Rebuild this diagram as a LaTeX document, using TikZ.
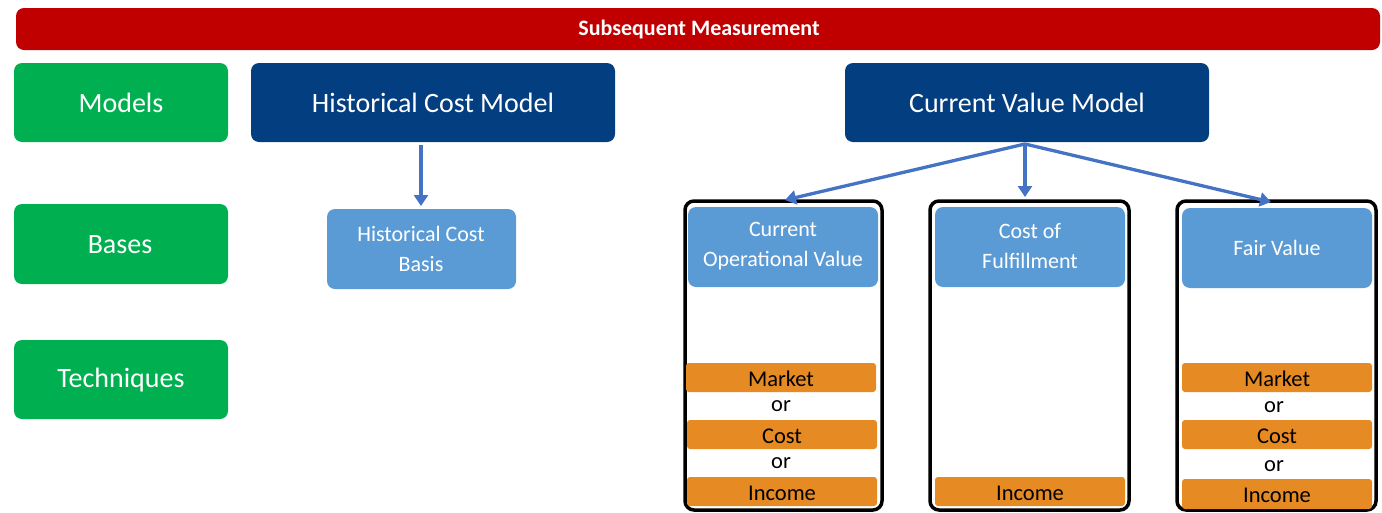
\documentclass[tikz,border=0pt]{standalone}
\usepackage{fontspec}
\setmainfont{Carlito}
\usetikzlibrary{arrows.meta}
\definecolor{redbar}{HTML}{C00000}
\definecolor{greenb}{HTML}{00B050}
\definecolor{navy}{HTML}{023E80}
\definecolor{lblue}{HTML}{5B9BD5}
\definecolor{arrowc}{HTML}{4472C4}
\definecolor{orangeb}{HTML}{E68A23}
\begin{document}
\begin{tikzpicture}[x=1pt,y=-1pt,
  box/.style={rounded corners=8pt,draw=none},
  lab/.style={text=white,font=\fontsize{28}{30}\selectfont},
  blab/.style={text=white,font=\fontsize{22}{30}\selectfont,align=center},
  olab/.style={text=black,font=\fontsize{22.5}{24}\selectfont},
  orlab/.style={text=black,font=\fontsize{22.5}{24}\selectfont},
  frame/.style={draw=black,line width=3.5pt,rounded corners=9pt},
  arr/.style={draw=arrowc,line width=3.3pt,-{Triangle[width=14pt,length=11pt]}}]
\useasboundingbox (0,0) rectangle (1382,512);
% red bar
\fill[redbar,rounded corners=8pt] (16,8) rectangle (1380,50);
\node[text=white,font=\bfseries\fontsize{22}{24}\selectfont] (title) at (699,30) {Subsequent Measurement};
% green column
\fill[greenb,box] (14,63) rectangle (228,142);
\node[lab] (models) at (121,103) {Models};
\fill[greenb,box] (14,204) rectangle (228,284);
\node[lab] (bases) at (120,245) {Bases};
\fill[greenb,box] (14,340) rectangle (228,419);
\node[lab] (techniques) at (121,380) {Techniques};
% models
\fill[navy,box] (251,63) rectangle (615,142);
\node[lab] (hcm) at (433,103) {Historical Cost Model};
\coordinate (hcmb) at (421,145);
\fill[navy,box] (845,63) rectangle (1209,142);
\node[lab] (cvm) at (1027,103) {Current Value Model};
\coordinate (cvmb) at (1025,144);
% historical cost basis
\fill[lblue,box] (327,209) rectangle (516,289);
\node[blab] (hcb) at (421,249) {Historical Cost\\Basis};
\coordinate (hcbt) at (421,206);
\draw[arr] (hcmb) -- (hcbt);
% frames
\draw[frame] (685,201) rectangle (882,510);
\draw[frame] (930,201) rectangle (1129,510);
\draw[frame] (1177,201) rectangle (1376,510);
% bases inside frames
\fill[lblue,box] (688,207) rectangle (878,287);
\node[blab] (cov) at (783,246) {Current\\Operational Value};
\fill[lblue,box] (935,207) rectangle (1125,287);
\node[blab] (cof) at (1030,246) {Cost of\\Fulfillment};
\fill[lblue,box] (1182,208) rectangle (1372,288);
\node[blab] (fv) at (1277,248) {Fair Value};
\coordinate (t1) at (785,200);
\coordinate (t2) at (1025,197);
\coordinate (t3) at (1271,202);
\draw[arr] (cvmb) -- (t1);
\draw[arr] (cvmb) -- (t2);
\draw[arr] (cvmb) -- (t3);
% techniques col1
\fill[orangeb,rounded corners=3pt] (686,363) rectangle (876,392);
\node[olab] (m1) at (781,379) {Market};
\node[orlab] (or1) at (781,406) {or};
\fill[orangeb,rounded corners=3pt] (687,420) rectangle (877,449);
\node[olab] (c1) at (782,436) {Cost};
\node[orlab] (or2) at (781,463) {or};
\fill[orangeb,rounded corners=3pt] (687,477) rectangle (877,506);
\node[olab] (i1) at (782,493) {Income};
% col2
\fill[orangeb,rounded corners=3pt] (935,477) rectangle (1125,506);
\node[olab] (i2) at (1030,493) {Income};
% col3
\fill[orangeb,rounded corners=3pt] (1182,363) rectangle (1372,392);
\node[olab] (m3) at (1277,379) {Market};
\node[orlab] (or3) at (1274,407) {or};
\fill[orangeb,rounded corners=3pt] (1182,420) rectangle (1372,449);
\node[olab] (c3) at (1277,436) {Cost};
\node[orlab] (or4) at (1274,466) {or};
\fill[orangeb,rounded corners=3pt] (1182,479) rectangle (1372,509);
\node[olab] (i3) at (1277,495) {Income};
\end{tikzpicture}
\end{document}
